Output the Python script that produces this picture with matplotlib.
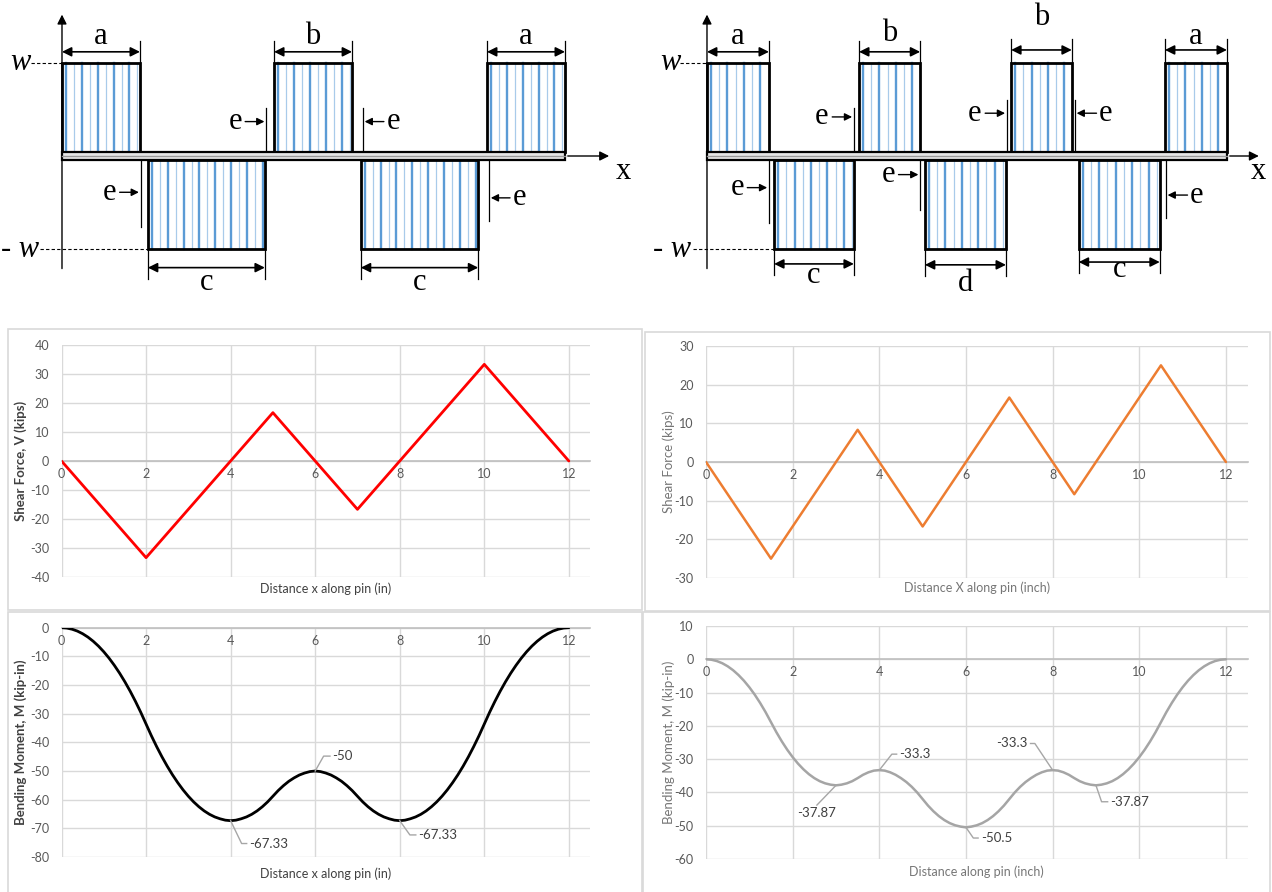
import numpy as np
import matplotlib
matplotlib.use("Agg")
import matplotlib.pyplot as plt
from matplotlib.patches import Rectangle

plt.rcParams['axes.unicode_minus'] = False
plt.rcParams['font.family'] = ['Lato', 'DejaVu Sans']

# ---------------- data ----------------
# Load diagram 1 (spans along the pin, in inches)
L_up_spans = [(0.0, 1.86), (5.06, 6.92), (10.14, 12.0)]
L_down_spans = [(2.05, 4.84), (7.13, 9.93)]
L_dims = [(0.0, 1.86, 1.12, 'a', 1.28), (5.06, 6.92, 1.12, 'b', 1.28),
          (10.14, 12.0, 1.12, 'a', 1.28),
          (2.05, 4.84, -1.20, 'c', -1.36), (7.13, 9.93, -1.20, 'c', -1.36)]
# e markers: (line x, line end y, direction, arrow/text y)
L_e = [(4.87, 0.52, 'right', 0.37), (7.18, 0.52, 'left', 0.37),
       (1.875, -0.76, 'right', -0.39), (10.19, -0.70, 'left', -0.45)]

# Load diagram 2
R_up_spans = [(0.0, 1.43), (3.51, 4.92), (7.02, 8.42), (10.57, 12.0)]
R_down_spans = [(1.55, 3.39), (5.03, 6.90), (8.58, 10.45)]
R_dims = [(0.0, 1.43, 1.12, 'a', 1.28), (3.51, 4.92, 1.12, 'b', 1.32),
          (7.02, 8.42, 1.14, 'b', 1.49), (10.57, 12.0, 1.14, 'a', 1.28),
          (1.55, 3.39, -1.16, 'c', -1.28), (5.03, 6.90, -1.17, 'd', -1.37),
          (8.58, 10.45, -1.14, 'c', -1.22)]
R_e = [(3.39, 0.52, 'right', 0.42), (6.92, 0.60, 'right', 0.46),
       (8.49, 0.60, 'left', 0.46), (1.43, -0.72, 'right', -0.34),
       (4.92, -0.58, 'right', -0.20), (10.59, -0.67, 'left', -0.42)]

# Shear force diagrams
shear1_x = [0, 2, 5, 7, 10, 12]
shear1_v = [0, -33.33, 16.67, -16.67, 33.33, 0]
shear2_x = [0, 1.5, 3.5, 5, 7, 8.5, 10.5, 12]
shear2_v = [0, -25, 8.33, -16.67, 16.67, -8.33, 25, 0]

# Bending moment diagrams (read every 0.125 in)
moment_x = [i * 0.125 for i in range(97)]
moment1 = [0, -0.13, -0.53, -1.18, -2.1, -3.28, -4.73, -6.43, -8.4, -10.63,
           -13.13, -15.88, -18.9, -22.18, -25.73, -29.53, -33.6,
           -37.67, -41.47, -45.02, -48.3, -51.32, -54.07, -56.57, -58.8,
           -60.77, -62.47, -63.92, -65.1, -66.02, -66.67, -67.15, -67.33,
           -67.15, -66.67, -66.02, -65.1, -63.92, -62.47, -60.77, -58.8,
           -56.82, -55.1, -53.6, -52.4, -51.4, -50.7, -50.2, -50.0,
           -50.2, -50.7, -51.4, -52.4, -53.6, -55.1, -56.82, -58.8,
           -60.77, -62.47, -63.92, -65.1, -66.02, -66.67, -67.15, -67.33,
           -67.15, -66.67, -66.02, -65.1, -63.92, -62.47, -60.77, -58.8,
           -56.57, -54.07, -51.32, -48.3, -45.02, -41.47, -37.67, -33.6,
           -29.53, -25.73, -22.18, -18.9, -15.88, -13.13, -10.63, -8.4,
           -6.43, -4.73, -3.28, -2.1, -1.18, -0.53, -0.13, 0]
moment2 = [0, -0.13, -0.53, -1.18, -2.1, -3.28, -4.73, -6.43, -8.4, -10.63,
           -13.13, -15.88, -18.9,
           -21.92, -24.67, -27.17, -29.4, -31.37, -33.07, -34.52, -35.7,
           -36.62, -37.27, -37.67, -37.87,
           -37.67, -37.27, -36.62, -35.7, -34.7, -33.95, -33.45, -33.3,
           -33.45, -33.95, -34.7, -35.7, -36.88, -38.33, -40.03, -42.0,
           -43.97, -45.67, -47.12, -48.3, -49.22, -49.87, -50.27, -50.5,
           -50.27, -49.87, -49.22, -48.3, -47.12, -45.67, -43.97, -42.0,
           -40.03, -38.33, -36.88, -35.7, -34.7, -33.95, -33.45, -33.3,
           -33.45, -33.95, -34.7, -35.7, -36.62, -37.27, -37.67, -37.87,
           -37.67, -37.27, -36.62, -35.7, -34.52, -33.07, -31.37, -29.4,
           -27.17, -24.67, -21.92, -18.9,
           -15.88, -13.13, -10.63, -8.4, -6.43, -4.73, -3.28, -2.1, -1.18,
           -0.53, -0.13, 0]
# annotations: (point x, point y, elbow x, elbow y, end x, label, ha)
ann1 = [(6, -50, 6.2, -44.8, 6.35, '-50', 'left'),
        (4, -67.33, 4.26, -75.3, 4.38, '-67.33', 'left'),
        (8, -67.33, 8.24, -72.3, 8.38, '-67.33', 'left')]
ann2 = [(4, -33.3, 4.29, -28.5, 4.40, '-33.3', 'left'),
        (3, -37.87, 2.56, -43.8, 2.56, '-37.87', 'below'),
        (6, -50.5, 6.17, -53.7, 6.28, '-50.5', 'left'),
        (8, -33.3, 7.59, -25.3, 7.49, '-33.3', 'right'),
        (9, -37.87, 9.13, -42.8, 9.27, '-37.87', 'left')]

W, H = 1272, 892
fig = plt.figure(figsize=(W / 100, H / 100), dpi=100)
fig.patch.set_facecolor('white')

SERIF = ['Liberation Serif', 'DejaVu Serif']


def draw_load(ax, up, down, dims, emarks, arrow_x, xlab_x, wlab_x, w_dash0,
              mw_lab_x, mw_dash0, ylim_top):
    ax.set_axis_off()
    bt = 0.043
    # beam
    ax.add_patch(Rectangle((0, -bt), 12, 2 * bt, facecolor='#e6e6e6',
                           edgecolor='black', lw=1.6, zorder=5))
    ax.plot([0, 12], [0, 0], color='#9a9a9a', lw=1.0, zorder=6)
    # x axis arrow
    ax.annotate('', xy=(arrow_x, 0), xytext=(12, 0),
                arrowprops=dict(arrowstyle='-|>', color='black', lw=1.0,
                                mutation_scale=14), zorder=6)
    ax.text(xlab_x, -0.17, 'x', family=SERIF, fontsize=22, ha='left',
            va='center')
    # y axis
    ax.annotate('', xy=(0, ylim_top), xytext=(0, -1.24),
                arrowprops=dict(arrowstyle='-|>', color='black', lw=1.0,
                                mutation_scale=14))
    # w labels and dashes
    ax.text(wlab_x, 1.0, 'w', family=SERIF, style='italic', fontsize=22,
            ha='center', va='center')
    ax.plot([w_dash0, 0], [1, 1], color='black', lw=0.8, ls=(0, (3, 2)))
    ax.text(mw_lab_x, -1.0, '- w', family=SERIF, style='italic', fontsize=22,
            ha='center', va='center')
    ax.plot([mw_dash0, down[0][0]], [-1, -1], color='black', lw=0.8,
            ls=(0, (3, 2)))

    def hatch(x0, x1, y0, y1):
        xs = np.arange(x0 + 0.09, x1 - 0.03, 0.19)
        for k, xx in enumerate(xs):
            if k % 2 == 0:
                ax.plot([xx, xx], [y0, y1], color='#5B9BD5', lw=1.7, zorder=2)
            else:
                ax.plot([xx, xx], [y0, y1], color='#A9CBEA', lw=0.9, zorder=2)
        ax.add_patch(Rectangle((x0, y0), x1 - x0, y1 - y0, facecolor='none',
                               edgecolor='black', lw=2.0, zorder=4))

    for s, e in up:
        hatch(s, e, bt, 1.0)
    for s, e in down:
        hatch(s, e, -1.0, -bt)

    for s, e, ya, lab, yl in dims:
        sign = 1 if ya > 0 else -1
        ext0 = 1.0 if sign > 0 else -1.0
        ext1 = ya + sign * 0.12
        for xx in (s, e):
            if xx > 0.01:
                ax.plot([xx, xx], [ext0, ext1], color='black', lw=0.9)
        ax.annotate('', xy=(e, ya), xytext=(s, ya),
                    arrowprops=dict(arrowstyle='<|-|>', color='black', lw=1.2,
                                    mutation_scale=14, shrinkA=0, shrinkB=0))
        ax.text((s + e) / 2, yl, lab, family=SERIF, fontsize=22, ha='center',
                va='center')

    for xl, yend, d, ya in emarks:
        ax.plot([xl, xl], [0, yend], color='black', lw=0.9, zorder=3)
        if d == 'right':
            ax.annotate('', xy=(xl - 0.04, ya), xytext=(xl - 0.5, ya),
                        arrowprops=dict(arrowstyle='-|>', color='black',
                                        lw=1.0, mutation_scale=11,
                                        shrinkA=0, shrinkB=0))
            ax.text(xl - 0.58, ya, 'e', family=SERIF, fontsize=22,
                    ha='right', va='center')
        else:
            ax.annotate('', xy=(xl + 0.04, ya), xytext=(xl + 0.5, ya),
                        arrowprops=dict(arrowstyle='-|>', color='black',
                                        lw=1.0, mutation_scale=11,
                                        shrinkA=0, shrinkB=0))
            ax.text(xl + 0.56, ya, 'e', family=SERIF, fontsize=22,
                    ha='left', va='center')


# load diagram axes
axL = fig.add_axes([0, (H - 300) / H, 640 / W, 300 / H])
axL.set_xlim(-1.479, 13.79)
axL.set_ylim(-1.548, 1.677)
draw_load(axL, L_up_spans, L_down_spans, L_dims, L_e, 13.12, 13.2, -1.0,
          -0.75, -1.0, -0.52, 1.55)

axR = fig.add_axes([640 / W, (H - 300) / H, 632 / W, 300 / H])
axR.set_xlim(-1.546, 13.04)
axR.set_ylim(-1.548, 1.677)
draw_load(axR, R_up_spans, R_down_spans, R_dims, R_e, 12.8, 12.55, -0.85,
          -0.62, -0.80, -0.32, 1.55)

# panel frames
for x0, y0, x1, y1 in [(8, 329, 642, 610), (645, 332, 1270, 611),
                       (8, 612, 642, 895), (643, 612, 1270, 895)]:
    fig.add_artist(Rectangle((x0 / W, 1 - y1 / H), (x1 - x0) / W,
                             (y1 - y0) / H, transform=fig.transFigure,
                             facecolor='none', edgecolor='#D9D9D9', lw=1.2))


def chart(rect_px, xs, ys, color, lw, ylim, ystep, xlabel, ylabel, xlab_y,
          strong, ylab_right_px):
    x0, y_top, x1, y_bot = rect_px
    ax = fig.add_axes([x0 / W, 1 - y_bot / H, (x1 - x0) / W,
                       (y_bot - y_top) / H])
    ax.set_xlim(0, 12.5)
    ax.set_ylim(*ylim)
    ax.set_xticks(range(0, 13, 2))
    ax.set_yticks(np.arange(ylim[0], ylim[1] + 0.1, ystep))
    ax.yaxis.set_major_formatter(matplotlib.ticker.FuncFormatter(
        lambda v, p: '%d' % round(v)))
    ax.grid(True, color='#D9D9D9', lw=1.0, zorder=0)
    for sp in ('top', 'right', 'left'):
        ax.spines[sp].set_visible(False)
    ax.spines['bottom'].set_position(('data', 0))
    ax.spines['bottom'].set_color('#BFBFBF')
    ax.spines['bottom'].set_linewidth(1.2)
    tc = '#595959'
    ax.tick_params(axis='x', length=0, pad=5, labelsize=9, colors=tc)
    ax.tick_params(axis='y', length=0, pad=9, labelsize=9, colors=tc)
    ax.plot(xs, ys, color=color, lw=lw, zorder=3, solid_joinstyle='round',
            solid_capstyle='round')
    lc = '#404040' if strong else '#767676'
    ax.set_xlabel(xlabel, fontsize=9, color=lc)
    ax.xaxis.set_label_coords(0.5, 1 - (xlab_y - y_top) / (y_bot - y_top))
    ax.xaxis.label.set_va('center')
    ax.set_ylabel(ylabel, fontsize=9.5, color=lc,
                  fontweight='bold' if strong else 'normal')
    ax.yaxis.set_label_coords((ylab_right_px - x0) / (x1 - x0), 0.5)
    return ax


ax1 = chart((61.5, 345, 590, 577), shear1_x, shear1_v, '#FF0000', 2.0,
            (-40, 40), 10, 'Distance x along pin (in)', 'Shear Force, V (kips)',
            589, True, 27)

ax2 = chart((706, 346, 1247.6, 578), shear2_x, shear2_v, '#ED7D31', 1.8,
            (-30, 30), 10, 'Distance X along pin (inch)', 'Shear Force (kips)',
            588, False, 675)

ax3 = chart((61.5, 627.7, 590, 857), moment_x, moment1, '#000000', 2.0,
            (-80, 0), 10, 'Distance x along pin (in)',
            'Bending Moment, M (kip-in)', 874, True, 27)

ax4 = chart((706, 626, 1247.6, 859), moment_x, moment2, '#A5A5A5', 1.8,
            (-60, 10), 10, 'Distance along pin (inch)',
            'Bending Moment, M (kip-in)', 872, False, 675)


def annotate(ax, anns):
    for px, py, ex, ey, hx, lab, ha in anns:
        ax.plot([px, ex, hx], [py, ey, ey], color='#A6A6A6', lw=1.0, zorder=4)
        if ha == 'left':
            ax.text(hx + 0.06, ey, lab, fontsize=9.5, color='#404040',
                    ha='left', va='center')
        elif ha == 'right':
            ax.text(hx - 0.06, ey, lab, fontsize=9.5, color='#404040',
                    ha='right', va='center')
        else:
            ax.text(hx, ey - 0.6, lab, fontsize=9.5, color='#404040',
                    ha='center', va='top')


annotate(ax3, ann1)
annotate(ax4, ann2)

fig.savefig('out.png', dpi=100)
